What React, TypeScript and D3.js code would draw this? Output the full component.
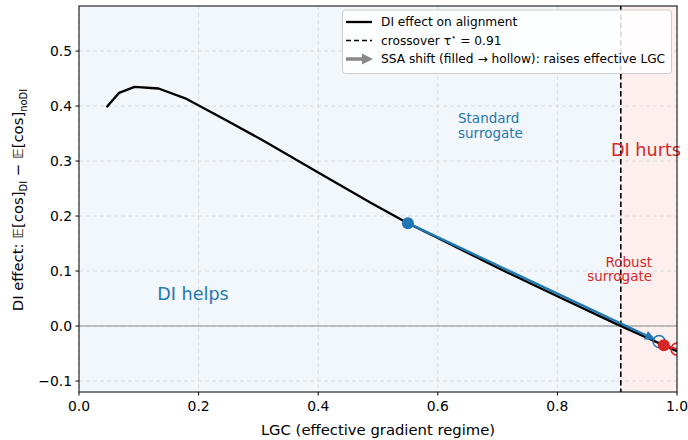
import React from "react";
import * as d3 from "d3";

// DI effect curve: LGC vs E[cos]_DI - E[cos]_noDI
const lgcValues = [0.046, 0.067, 0.093, 0.133, 0.18, 0.25, 0.31, 0.4, 0.49, 0.55, 0.6, 0.7, 0.8, 0.9, 1.0];
const diEffect = [0.398, 0.424, 0.435, 0.432, 0.413, 0.372, 0.336, 0.279, 0.223, 0.187, 0.16, 0.106, 0.054, 0.003, -0.046];

// crossover point where DI effect changes sign
const crossover = 0.906;

// surrogate positions before (filled) and after (hollow) SSA shift
const standardFilled = [0.55, 0.187];
const standardHollow = [0.97, -0.028];
const robustFilled = [0.978, -0.035];
const robustHollow = [1.0, -0.042];

const xTicks = [0, 0.2, 0.4, 0.6, 0.8, 1.0];
const yTicks = [-0.1, 0, 0.1, 0.2, 0.3, 0.4, 0.5];

const W = 688;
const H = 440;
const L = 79, R = 677, T = 6, B = 392;
const BLUE = "#1f77b4";
const RED = "#d62728";
const FONT = "DejaVu Sans, sans-serif";

export default function App() {
  const x = d3.scaleLinear().domain([0, 1]).range([L, R]);
  const y = d3.scaleLinear().domain([-0.12, 0.582]).range([B, T]);
  const pts: [number, number][] = lgcValues.map((v, i) => [v, diEffect[i]]);
  const line = d3.line<[number, number]>().x(d => x(d[0])).y(d => y(d[1]));

  // blue arrow geometry
  const sx = x(standardFilled[0]), sy = y(standardFilled[1]);
  const ex = x(standardHollow[0]), ey = y(standardHollow[1]);
  const ang = Math.atan2(ey - sy, ex - sx);
  const tipX = ex - Math.cos(ang) * 4, tipY = ey - Math.sin(ang) * 4;
  const headLen = 10.5, headW = 4.8;
  const baseX = tipX - Math.cos(ang) * headLen, baseY = tipY - Math.sin(ang) * headLen;
  const head = [
    [tipX, tipY],
    [baseX + Math.sin(ang) * headW, baseY - Math.cos(ang) * headW],
    [baseX - Math.sin(ang) * headW, baseY + Math.cos(ang) * headW],
  ].map(p => p.join(",")).join(" ");

  const fmt = d3.format(".1f");
  const tickFs = 13.9;

  return (
    <svg width={W} height={H} style={{ position: "absolute", left: 0, top: 0, background: "#fff" }} fontFamily={FONT}>
      <defs>
        <clipPath id="plot-clip">
          <rect x={L} y={T} width={R - L} height={B - T} />
        </clipPath>
      </defs>
      {/* regime shading */}
      <rect x={L} y={T} width={x(crossover) - L} height={B - T} fill="#f2f7fb" />
      <rect x={x(crossover)} y={T} width={R - x(crossover)} height={B - T} fill="#fcefee" />

      {/* grid */}
      {xTicks.map(t => (
        <line key={"gx" + t} x1={x(t)} x2={x(t)} y1={T} y2={B} stroke="#d6d6d6" strokeWidth={0.8} strokeDasharray="4,3" />
      ))}
      {yTicks.map(t => (
        <line key={"gy" + t} x1={L} x2={R} y1={y(t)} y2={y(t)} stroke="#d6d6d6" strokeWidth={0.8} strokeDasharray="4,3" />
      ))}

      {/* zero line */}
      <line x1={L} x2={R} y1={y(0)} y2={y(0)} stroke="#888" strokeWidth={1.2} />

      <g clipPath="url(#plot-clip)">
        <path d={line(pts) || ""} fill="none" stroke="#000" strokeWidth={2.3} strokeLinejoin="round" />
        {/* crossover */}
        <line x1={x(crossover)} x2={x(crossover)} y1={T} y2={B} stroke="#000" strokeWidth={1.6} strokeDasharray="5.5,3" />

        {/* standard surrogate shift */}
        <line x1={sx} y1={sy} x2={baseX} y2={baseY} stroke={BLUE} strokeWidth={2.4} />
        <polygon points={head} fill={BLUE} />
        <circle cx={sx} cy={sy} r={6} fill={BLUE} />
        <circle cx={ex} cy={ey} r={6} fill="none" stroke={BLUE} strokeWidth={1.5} />

        {/* robust surrogate shift */}
        <line x1={x(robustFilled[0])} y1={y(robustFilled[1])} x2={x(robustHollow[0])} y2={y(robustHollow[1])} stroke={RED} strokeWidth={2} />
        <circle cx={x(robustHollow[0])} cy={y(robustHollow[1])} r={6} fill="none" stroke={RED} strokeWidth={1.5} />
        <circle cx={x(robustFilled[0])} cy={y(robustFilled[1])} r={6} fill={RED} />
      </g>

      {/* annotations */}
      <text x={193} y={299.5} fill={BLUE} fontSize={17.6} textAnchor="middle">DI helps</text>
      <text x={646} y={155.5} fill={RED} fontSize={17.6} textAnchor="middle">DI hurts</text>
      <text x={458} y={122.8} fill={BLUE} fontSize={13.5}>
        <tspan x={458}>Standard</tspan>
        <tspan x={458} dy={14.8}>surrogate</tspan>
      </text>
      <text x={652} y={266.7} fill={RED} fontSize={13.5} textAnchor="end">
        <tspan x={652}>Robust</tspan>
        <tspan x={652} dy={14.5}>surrogate</tspan>
      </text>

      {/* frame */}
      <rect x={L} y={T} width={R - L} height={B - T} fill="none" stroke="#000" strokeWidth={1} />

      {/* x axis */}
      {xTicks.map(t => (
        <g key={"xt" + t}>
          <line x1={x(t)} x2={x(t)} y1={B} y2={B + 3.5} stroke="#000" />
          <text x={x(t)} y={B + 19} fontSize={tickFs} textAnchor="middle">{fmt(t)}</text>
        </g>
      ))}
      <text x={(L + R) / 2} y={435} fontSize={14.8} textAnchor="middle">LGC (effective gradient regime)</text>

      {/* y axis */}
      {yTicks.map(t => (
        <g key={"yt" + t}>
          <line x1={L - 3.5} x2={L} y1={y(t)} y2={y(t)} stroke="#000" />
          <text x={L - 7} y={y(t)} fontSize={tickFs} textAnchor="end" dominantBaseline="central">{t < 0 ? "\u2212" + fmt(-t) : fmt(t)}</text>
        </g>
      ))}
      <text transform={`translate(23,200) rotate(-90)`} fontSize={14.8} textAnchor="middle">
        DI effect: 𝔼[cos]<tspan fontSize={10} dy={3.5}>DI</tspan><tspan dy={-3.5}> − 𝔼[cos]</tspan><tspan fontSize={10} dy={3.5}>noDI</tspan>
      </text>

      {/* legend */}
      <g>
        <rect x={342.5} y={10} width={329} height={63.5} rx={3} fill="#fff" fillOpacity={0.85} stroke="#cccccc" strokeWidth={1} />
        <line x1={346} x2={372} y1={22} y2={22} stroke="#000" strokeWidth={2.3} />
        <text x={381} y={22} fontSize={12.2} dominantBaseline="central">DI effect on alignment</text>
        <line x1={346} x2={372} y1={40.5} y2={40.5} stroke="#000" strokeWidth={1.6} strokeDasharray="5,3" />
        <text x={381} y={40.5} fontSize={12.2} dominantBaseline="central">
          crossover τ<tspan fontSize={8.5} dy={-4}>⋆</tspan><tspan dy={4}> = {crossover.toFixed(2)}</tspan>
        </text>
        <line x1={346} x2={363} y1={59} y2={59} stroke="#888" strokeWidth={3.5} />
        <polygon points="373,59 362,53.5 362,64.5" fill="#888" />
        <text x={381} y={59} fontSize={12.2} dominantBaseline="central">SSA shift (filled → hollow): raises effective LGC</text>
      </g>
    </svg>
  );
}
